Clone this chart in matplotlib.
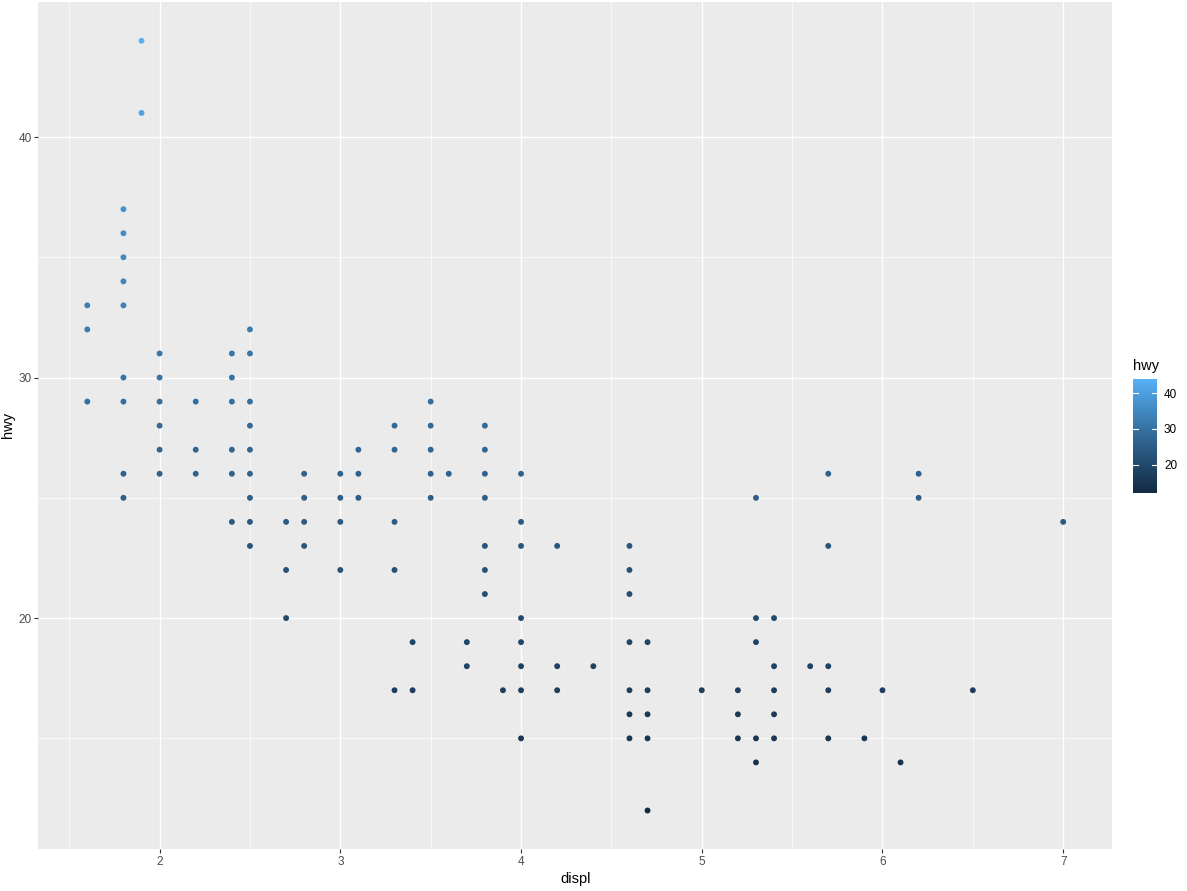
import numpy as np
import matplotlib
matplotlib.use("Agg")
import matplotlib.pyplot as plt
from matplotlib.colors import ListedColormap, Normalize, to_rgb
from matplotlib.ticker import FixedLocator

plt.rcParams["font.family"] = ["Liberation Sans", "DejaVu Sans"]

# unique (displ, hwy) pairs
displ = [
    1.6, 1.6, 1.6,
    1.8, 1.8, 1.8, 1.8, 1.8, 1.8, 1.8, 1.8, 1.8,
    1.9, 1.9,
    2.0, 2.0, 2.0, 2.0, 2.0, 2.0,
    2.2, 2.2, 2.2,
    2.4, 2.4, 2.4, 2.4, 2.4, 2.4,
    2.5, 2.5, 2.5, 2.5, 2.5, 2.5, 2.5, 2.5, 2.5,
    2.7, 2.7, 2.7,
    2.8, 2.8, 2.8, 2.8,
    3.0, 3.0, 3.0, 3.0,
    3.1, 3.1, 3.1,
    3.3, 3.3, 3.3, 3.3, 3.3,
    3.4, 3.4,
    3.5, 3.5, 3.5, 3.5, 3.5,
    3.6,
    3.7, 3.7,
    3.8, 3.8, 3.8, 3.8, 3.8, 3.8, 3.8,
    3.9,
    4.0, 4.0, 4.0, 4.0, 4.0, 4.0, 4.0, 4.0,
    4.2, 4.2, 4.2,
    4.4,
    4.6, 4.6, 4.6, 4.6, 4.6, 4.6, 4.6,
    4.7, 4.7, 4.7, 4.7, 4.7,
    5.0,
    5.2, 5.2, 5.2,
    5.3, 5.3, 5.3, 5.3, 5.3,
    5.4, 5.4, 5.4, 5.4, 5.4,
    5.6,
    5.7, 5.7, 5.7, 5.7, 5.7,
    5.9,
    6.0,
    6.1,
    6.2, 6.2,
    6.5,
    7.0,
]
hwy = [
    33, 32, 29,
    37, 36, 35, 34, 33, 30, 29, 26, 25,
    44, 41,
    31, 30, 29, 28, 27, 26,
    29, 27, 26,
    31, 30, 29, 27, 26, 24,
    32, 31, 29, 28, 27, 26, 25, 24, 23,
    24, 22, 20,
    26, 25, 24, 23,
    26, 25, 24, 22,
    27, 26, 25,
    28, 27, 24, 22, 17,
    19, 17,
    29, 28, 27, 26, 25,
    26,
    19, 18,
    28, 27, 26, 25, 23, 22, 21,
    17,
    26, 24, 23, 20, 19, 18, 17, 15,
    23, 18, 17,
    18,
    23, 22, 21, 19, 17, 16, 15,
    19, 17, 16, 15, 12,
    17,
    17, 16, 15,
    25, 20, 19, 15, 14,
    20, 18, 17, 16, 15,
    18,
    26, 23, 18, 17, 15,
    15,
    17,
    14,
    26, 25,
    17,
    24,
]

x_ticks = [2, 3, 4, 5, 6, 7]
x_minor = [1.5, 2.5, 3.5, 4.5, 5.5, 6.5]
y_ticks = [20, 30, 40]
y_minor = [15, 25, 35]
legend_ticks = [20, 30, 40]

LOW = "#132B43"
HIGH = "#56B1F7"
WHITE = np.array([0.95047, 1.0, 1.08883])
M = np.array([[0.4124, 0.3576, 0.1805],
              [0.2126, 0.7152, 0.0722],
              [0.0193, 0.1192, 0.9505]])


def rgb_to_lab(rgb):
    c = np.asarray(rgb, dtype=float)
    lin = np.where(c <= 0.04045, c / 12.92, ((c + 0.055) / 1.055) ** 2.4)
    xyz = M @ lin / WHITE
    f = np.where(xyz > 0.008856, np.cbrt(xyz), 7.787 * xyz + 16 / 116)
    return np.array([116 * f[1] - 16, 500 * (f[0] - f[1]), 200 * (f[1] - f[2])])


def lab_to_rgb(lab):
    L, a, b = lab
    fy = (L + 16) / 116
    f = np.array([fy + a / 500, fy, fy - b / 200])
    xyz = np.where(f ** 3 > 0.008856, f ** 3, (f - 16 / 116) / 7.787) * WHITE
    lin = np.clip(np.linalg.solve(M, xyz), 0, 1)
    c = np.where(lin <= 0.0031308, 12.92 * lin, 1.055 * lin ** (1 / 2.4) - 0.055)
    return np.clip(c, 0, 1)


# ggplot-style gradient interpolated in Lab space
lab_lo = rgb_to_lab(to_rgb(LOW))
lab_hi = rgb_to_lab(to_rgb(HIGH))
cmap = ListedColormap(
    [lab_to_rgb(lab_lo + t * (lab_hi - lab_lo)) for t in np.linspace(0, 1, 256)]
)
norm = Normalize(vmin=min(hwy), vmax=max(hwy))

W, H = 1187, 891
fig = plt.figure(figsize=(W / 100, H / 100), dpi=100)
ax = fig.add_axes([38.5 / W, 1 - 849 / H, (1112 - 38.5) / W, (849 - 2.3) / H])

ax.set_facecolor("#EBEBEB")
for s in ax.spines.values():
    s.set_visible(False)

ax.scatter(displ, hwy, c=hwy, cmap=cmap, norm=norm, s=18, linewidths=0, zorder=3)

xr = max(displ) - min(displ)
yr = max(hwy) - min(hwy)
ax.set_xlim(min(displ) - 0.05 * xr, max(displ) + 0.05 * xr)
ax.set_ylim(min(hwy) - 0.05 * yr, max(hwy) + 0.05 * yr)

ax.set_xticks(x_ticks)
ax.set_yticks(y_ticks)
ax.xaxis.set_minor_locator(FixedLocator(x_minor))
ax.yaxis.set_minor_locator(FixedLocator(y_minor))
ax.grid(which="major", color="white", linewidth=1.0, zorder=0)
ax.grid(which="minor", color="white", linewidth=0.5, zorder=0)
ax.set_axisbelow(True)
ax.tick_params(which="major", length=3, width=0.8, color="#333333",
               labelsize=8.5, labelcolor="#4D4D4D", pad=2)
ax.tick_params(which="minor", length=0)

ax.set_xlabel("displ", fontsize=10.5, color="black", labelpad=3)
fig.text(8 / W, 1 - 425 / H, "hwy", fontsize=10.5, rotation=90,
         ha="center", va="center")

# colourbar legend
cax = fig.add_axes([1133 / W, 1 - 493 / H, 24 / W, (493 - 379) / H])
grad = np.linspace(min(hwy), max(hwy), 256).reshape(-1, 1)
cax.imshow(grad, cmap=cmap, norm=norm, aspect="auto", origin="lower",
           extent=[0, 1, min(hwy), max(hwy)])
cax.set_xlim(0, 1)
cax.set_ylim(min(hwy), max(hwy))
for s in cax.spines.values():
    s.set_visible(False)
cax.set_xticks([])
cax.yaxis.tick_right()
cax.set_yticks(legend_ticks)
cax.tick_params(axis="y", length=0, labelsize=8.5, labelcolor="black", pad=5)
for t in legend_ticks:
    cax.plot([0, 0.2], [t, t], color="white", linewidth=0.8)
    cax.plot([0.8, 1], [t, t], color="white", linewidth=0.8)
fig.text(1133 / W, 1 - 366 / H, "hwy", fontsize=10.5, ha="left", va="center")

fig.savefig("out.png", dpi=100)
